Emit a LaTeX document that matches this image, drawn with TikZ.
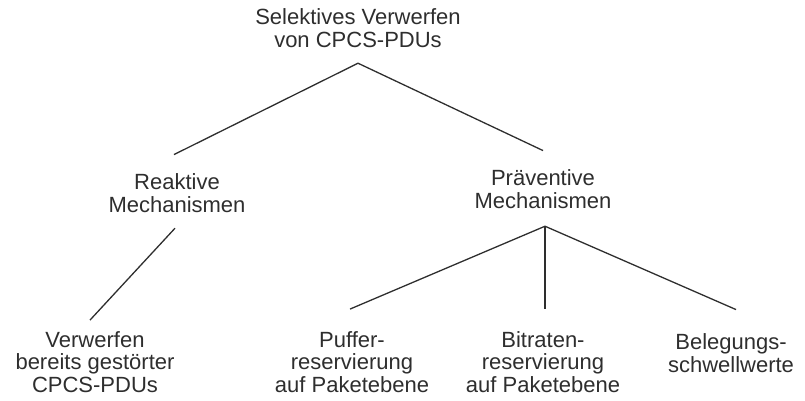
\documentclass[tikz,border=0pt]{standalone}
\usepackage{fontspec}
\setmainfont{Liberation Sans}
\begin{document}
\begin{tikzpicture}[x=1pt,y=-1pt,
  lbl/.style={align=center, inner sep=0pt, outer sep=0pt, anchor=base,
              text=black!82, font=\fontsize{22}{22.5}\selectfont},
  edge/.style={draw=black!82, line width=1.3pt}]
  \useasboundingbox (0,0) rectangle (805,400);

  % tree levels (each node is placed by the baseline of its last line)
  \node[lbl] (root)  at (358,47)  {Selektives Verwerfen\\von CPCS-PDUs};
  \node[lbl] (reakt) at (177,212) {Reaktive\\Mechanismen};
  \node[lbl] (praev) at (543,208) {Präventive\\Mechanismen};
  \node[lbl] (verw)  at (95,392)  {Verwerfen\\bereits gestörter\\CPCS-PDUs};
  \node[lbl] (puff)  at (352,392) {Puffer-\\reservierung\\auf Paketebene};
  \node[lbl] (bitr)  at (543,392) {Bitraten-\\reservierung\\auf Paketebene};
  \node[lbl] (beleg) at (731,372) {Belegungs-\\schwellwerte};

  % connectors
  \draw[edge] ([yshift=-16pt]root.south) -- ([xshift=-3pt,yshift=19pt]reakt.north);
  \draw[edge] ([yshift=-16pt]root.south) -- ([yshift=19pt]praev.north);
  \draw[edge] ([xshift=-2pt,yshift=-16pt]reakt.south) -- ([xshift=-5pt,yshift=11pt]verw.north);
  \draw[edge] ([xshift=2pt,yshift=-18pt]praev.south) -- ([xshift=-2pt,yshift=22pt]puff.north);
  \draw[edge] ([xshift=2pt,yshift=-18pt]praev.south) -- ([xshift=2pt,yshift=22pt]bitr.north);
  \draw[edge] ([xshift=2pt,yshift=-18pt]praev.south) -- ([xshift=5pt,yshift=24pt]beleg.north);
\end{tikzpicture}
\end{document}
